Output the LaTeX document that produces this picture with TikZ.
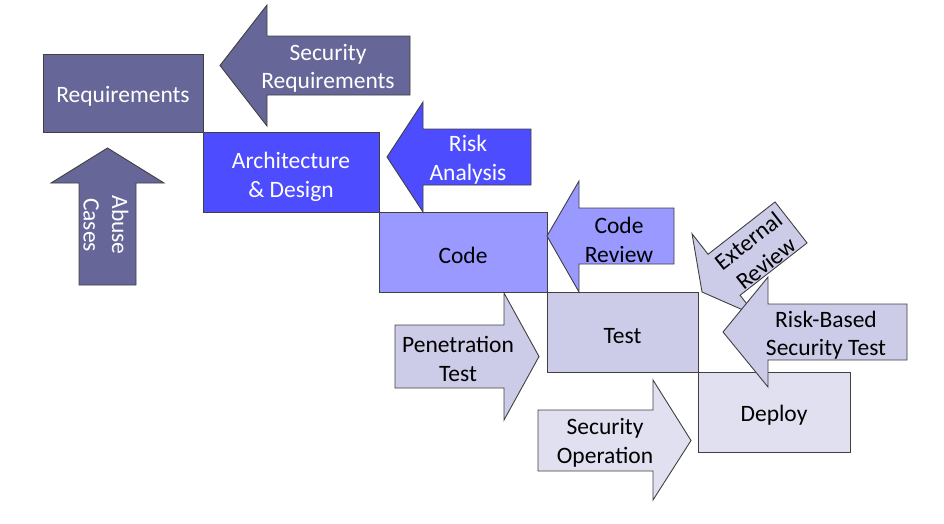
\documentclass[tikz,border=0pt]{standalone}
\usepackage{fontspec}
\setmainfont{Carlito}
\usepackage{tikz}
\definecolor{slate}{RGB}{102,102,153}
\definecolor{royal}{RGB}{77,77,255}
\definecolor{periwinkle}{RGB}{153,153,255}
\definecolor{lavender}{RGB}{204,204,232}
\definecolor{mist}{RGB}{224,224,240}

\begin{document}
\begin{tikzpicture}
    [every node/.style={inner sep=0pt, align=center, font=\fontsize{23.5pt}{28.5pt}\selectfont}]
        \useasboundingbox (0pt, 0pt) rectangle (944pt, -523pt);
        \node (1) [rectangle, minimum width=160pt, minimum height=78pt, fill=slate, line width=0.9pt, draw=black!75, text=white] at (123pt, -93pt) {\rule{0pt}{23pt}Requirements};
        \node (2) [rectangle, minimum width=176pt, minimum height=80pt, fill=royal, line width=0.9pt, draw=black!75, text=white] at (291pt, -172pt) {\rule{0pt}{26pt}Architecture\\\& Design};
        \node (3) [rectangle, minimum width=168pt, minimum height=80pt, fill=periwinkle, line width=0.9pt, draw=black!75] at (463pt, -252pt) {\rule{0pt}{23pt}Code};
        \node (4) [rectangle, minimum width=151pt, minimum height=80pt, fill=lavender, line width=0.9pt, draw=black!75] at (622.5pt, -332pt) {\rule{0pt}{23pt}Test};
        \node (5) [rectangle, minimum width=152pt, minimum height=80pt, fill=mist, line width=0.9pt, draw=black!75] at (774pt, -412pt) {\rule{0pt}{23pt}Deploy};
        \filldraw [fill=slate, line width=0.9pt, draw=black!75] (220pt, -65.5pt) -- (267pt, -5pt) -- (267pt, -36pt) -- (410pt, -36pt) -- (410pt, -95pt) -- (267pt, -95pt) -- (267pt, -126pt) -- cycle;
        \node (6) [text=white] at (328pt, -68.5pt) {Security\\Requirements};
        \filldraw [fill=slate, line width=0.9pt, draw=black!75] (107.5pt, -148pt) -- (164pt, -183pt) -- (136pt, -183pt) -- (136pt, -285pt) -- (79pt, -285pt) -- (79pt, -183pt) -- (51pt, -183pt) -- cycle;
        \node (7) [text=white, rotate=-90] at (106pt, -225pt) {Abuse\\Cases};
        \filldraw [fill=royal, line width=0.9pt, draw=black!75] (387pt, -157pt) -- (423pt, -102pt) -- (423pt, -129pt) -- (531pt, -129pt) -- (531pt, -185pt) -- (423pt, -185pt) -- (423pt, -212pt) -- cycle;
        \node (8) [text=white] at (468pt, -159.5pt) {Risk\\Analysis};
        \filldraw [fill=periwinkle, line width=0.9pt, draw=black!75] (547pt, -236pt) -- (579pt, -181pt) -- (579pt, -208pt) -- (674pt, -208pt) -- (674pt, -264pt) -- (579pt, -264pt) -- (579pt, -292pt) -- cycle;
        \node (9) at (619pt, -240pt) {Code\\Review};
        \filldraw [fill=lavender, line width=0.9pt, draw=black!75] (395pt, -325pt) -- (504pt, -325pt) -- (504pt, -293pt) -- (539pt, -356.5pt) -- (504pt, -420pt) -- (504pt, -388pt) -- (395pt, -388pt) -- cycle;
        \node (10) at (458pt, -359pt) {Penetration\\Test};
        \filldraw [fill=mist, line width=0.9pt, draw=black!75] (538pt, -410pt) -- (653pt, -410pt) -- (653pt, -380pt) -- (691pt, -440.5pt) -- (653pt, -500pt) -- (653pt, -471pt) -- (538pt, -471pt) -- cycle;
        \node (11) at (605pt, -443pt) {Security\\Operation};
        \begin{scope}[shift={(702pt, -292pt)}, rotate=38]
            \filldraw [fill=lavender, line width=0.9pt, draw=black!75] (0pt, 0pt) -- (28pt, 52pt) -- (28pt, 26pt) -- (113pt, 26pt) -- (113pt, -26pt) -- (28pt, -26pt) -- (28pt, -52pt) -- cycle;
        \end{scope}
        \node (12) [rotate=38] at (757pt, -252pt) {External\\Review};
        \filldraw [fill=lavender, line width=0.9pt, draw=black!75] (723pt, -332pt) -- (768pt, -277pt) -- (768pt, -304pt) -- (907pt, -304pt) -- (907pt, -360pt) -- (768pt, -360pt) -- (768pt, -387pt) -- cycle;
        \node (13) at (826pt, -335pt) {Risk-Based\\Security Test};
    \end{tikzpicture}
\end{document}
